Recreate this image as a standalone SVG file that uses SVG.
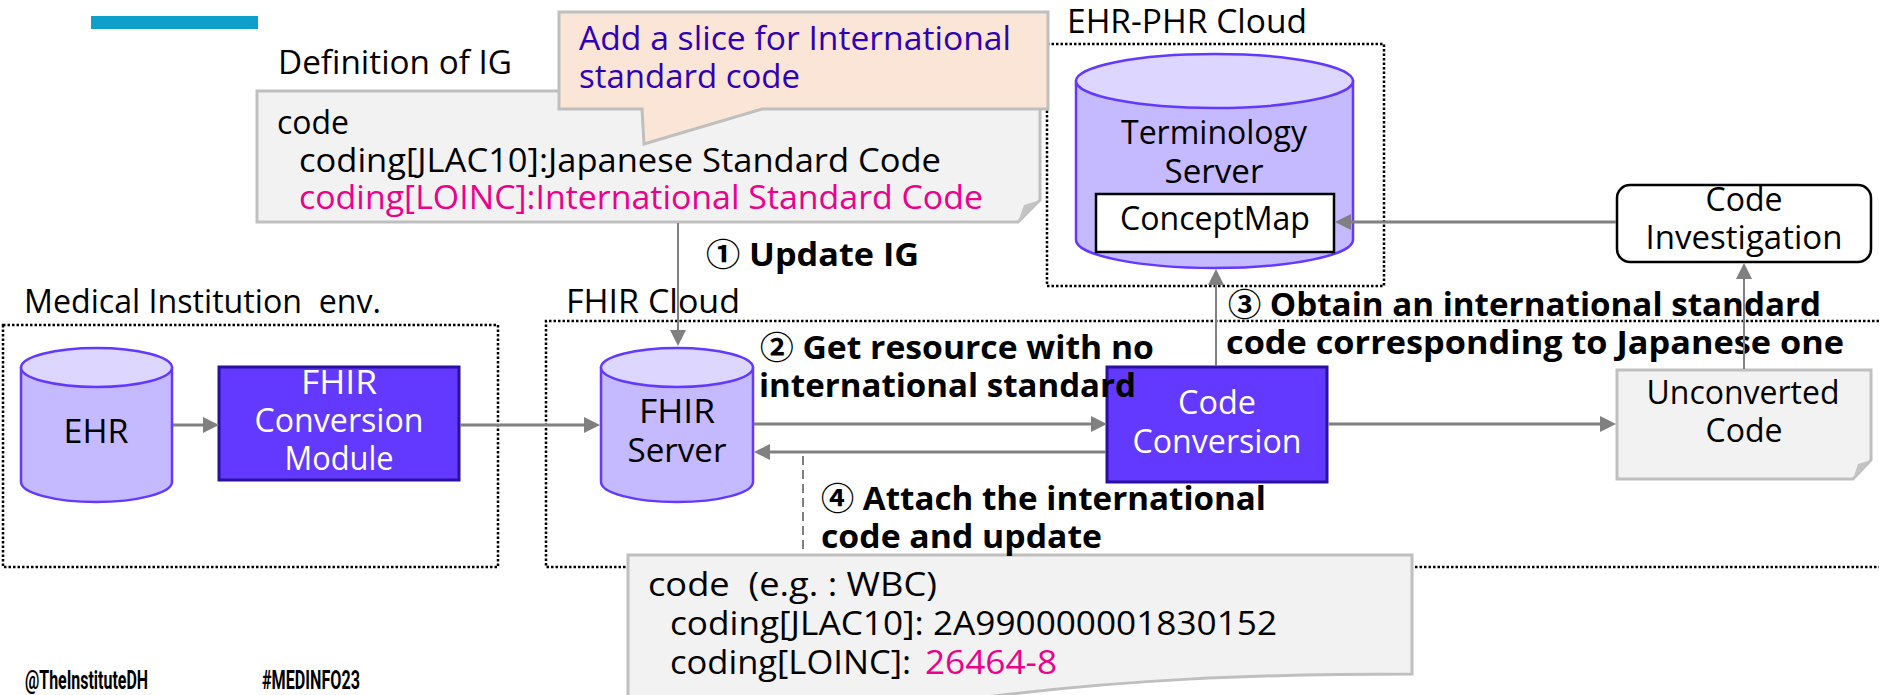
<svg xmlns="http://www.w3.org/2000/svg" width="1879" height="695" viewBox="0 0 1879 695">
<style>
text{font-family:"Open Sans","Noto Sans","Noto Sans CJK JP",sans-serif;font-size:32px;fill:#000;transform:translateY(1px)}
.b{font-weight:700}
.m{text-anchor:middle}
.w{fill:#fff}
.p{fill:#EC008C}
.u{fill:#2E00B8}
.f{font-family:"Roboto",sans-serif;font-weight:700;font-size:26px}
.dot{fill:none;stroke:#000;stroke-width:2.500;stroke-dasharray:2.500 2}
.note{fill:#F2F2F2;stroke:#BFBFBF;stroke-width:3}
.fold{fill:#C4C4C4;stroke:none}
.cyl{fill:#C5B9FF;stroke:#6338FF;stroke-width:2.5}
.top{fill:#DDD6FF;stroke:#6338FF;stroke-width:2.5}
.proc{fill:#6338FF;stroke:#2A109C;stroke-width:3}
.c{fill:none;stroke:#808080;stroke-width:3}
.t{stroke-width:2}
</style>
<defs>
<marker id="a" markerUnits="userSpaceOnUse" markerWidth="18" markerHeight="18" refX="1" refY="8" orient="auto"><path d="M0 0L16 8L0 16z" fill="#808080"/></marker>
</defs>
<rect id="accent" x="91" y="16" width="167" height="13" fill="#0F9FCB"/>
<g id="zones">
<rect class="dot" x="3" y="325" width="495" height="242"/>
<path class="dot" d="M1879 321H546V567H1879"/>
<rect class="dot" x="1047" y="44" width="337" height="242"/>
<text x="278" y="73" textLength="234" lengthAdjust="spacingAndGlyphs">Definition of IG</text>
<text x="1067" y="32" textLength="240" lengthAdjust="spacingAndGlyphs">EHR-PHR Cloud</text>
<text x="24" y="312" textLength="357" lengthAdjust="spacingAndGlyphs" xml:space="preserve">Medical Institution  env.</text>
<text x="566" y="312" textLength="174" lengthAdjust="spacingAndGlyphs">FHIR Cloud</text>
</g>
<g id="definition">
<path class="note" d="M257 91H1040V200L1018 222H257z"/>
<path class="fold" d="M1040 200L1018 222L1024 205z"/>
<text x="277" y="133" textLength="72" lengthAdjust="spacingAndGlyphs">code</text>
<text x="299" y="171" textLength="642" lengthAdjust="spacingAndGlyphs">coding[JLAC10]:Japanese Standard Code</text>
<text class="p" x="299" y="208" textLength="684" lengthAdjust="spacingAndGlyphs">coding[LOINC]:International Standard Code</text>
</g>
<g id="callout">
<path d="M559 12H1048V109H762L644 144L642 109H559z" fill="#FBE5D6" stroke="#BFBFBF" stroke-width="3"/>
<text class="u" x="579" y="49" textLength="432" lengthAdjust="spacingAndGlyphs">Add a slice for International</text>
<text class="u" x="579" y="87" textLength="221" lengthAdjust="spacingAndGlyphs">standard code</text>
</g>
<g id="ehr">
<path class="cyl" d="M21 368V482C21 493 55 502 96 502S172 493 172 482V368z"/>
<ellipse class="top" cx="96.500" cy="367.500" rx="75.500" ry="19.500"/>
<text class="m" x="96" y="442" textLength="65" lengthAdjust="spacingAndGlyphs">EHR</text>
</g>
<g id="fhir-conversion-module">
<rect class="proc" x="219" y="367" width="240" height="113"/>
<text class="m w" x="339" y="393" textLength="76" lengthAdjust="spacingAndGlyphs">FHIR</text>
<text class="m w" x="339" y="431" textLength="169" lengthAdjust="spacingAndGlyphs">Conversion</text>
<text class="m w" x="339" y="469" textLength="109" lengthAdjust="spacingAndGlyphs">Module</text>
</g>
<g id="fhir-server">
<path class="cyl" d="M601 368V482C601 493 635 502 677 502S753 493 753 482V368z"/>
<ellipse class="top" cx="677" cy="367.500" rx="76" ry="19.500"/>
<text class="m" x="677" y="422" textLength="76" lengthAdjust="spacingAndGlyphs">FHIR</text>
<text class="m" x="677" y="461" textLength="99" lengthAdjust="spacingAndGlyphs">Server</text>
</g>
<g id="code-conversion">
<rect class="proc" x="1107" y="367" width="220" height="115"/>
<text class="m w" x="1217" y="413" textLength="78" lengthAdjust="spacingAndGlyphs">Code</text>
<text class="m w" x="1217" y="452" textLength="169" lengthAdjust="spacingAndGlyphs">Conversion</text>
</g>
<g id="unconverted-code">
<path class="note" d="M1617 370H1871V460L1853 479H1617z"/>
<path class="fold" d="M1871 460L1853 479L1858 464z"/>
<text class="m" x="1743" y="403" textLength="193" lengthAdjust="spacingAndGlyphs">Unconverted</text>
<text class="m" x="1744" y="441" textLength="77" lengthAdjust="spacingAndGlyphs">Code</text>
</g>
<g id="terminology-server">
<path class="cyl" d="M1076 81V240C1076 255 1138 268 1214.500 268S1353 255 1353 240V81z"/>
<ellipse class="top" cx="1214.500" cy="81" rx="138.500" ry="27"/>
<text class="m" x="1214" y="143" textLength="186" lengthAdjust="spacingAndGlyphs">Terminology</text>
<text class="m" x="1214" y="182" textLength="99" lengthAdjust="spacingAndGlyphs">Server</text>
<rect x="1096" y="194" width="238" height="58" fill="#fff" stroke="#000" stroke-width="2.500"/>
<text class="m" x="1215" y="229" textLength="190" lengthAdjust="spacingAndGlyphs">ConceptMap</text>
</g>
<g id="code-investigation">
<rect x="1617" y="185" width="254" height="77" rx="13" fill="#fff" stroke="#000" stroke-width="2.500"/>
<text class="m" x="1744" y="210" textLength="77" lengthAdjust="spacingAndGlyphs">Code</text>
<text class="m" x="1744" y="248" textLength="197" lengthAdjust="spacingAndGlyphs">Investigation</text>
</g>
<g id="example">
<path class="note" d="M628 555H1412V674C1250 674 1120 680 987 697H628z"/>
<text x="648" y="595" textLength="289" lengthAdjust="spacingAndGlyphs" xml:space="preserve">code  (e.g. : WBC)</text>
<text x="670" y="634" textLength="607" lengthAdjust="spacingAndGlyphs">coding[JLAC10]: 2A990000001830152</text>
<text x="670" y="673" textLength="241" lengthAdjust="spacingAndGlyphs">coding[LOINC]:</text>
<text class="p" x="925" y="673" textLength="132" lengthAdjust="spacingAndGlyphs">26464-8</text>
</g>
<g id="steps">
<text class="b" x="706" y="265" textLength="213" lengthAdjust="spacingAndGlyphs">① Update IG</text>
<text class="b" x="760" y="358" textLength="394" lengthAdjust="spacingAndGlyphs">② Get resource with no</text>
<text class="b" x="759" y="396" textLength="377" lengthAdjust="spacingAndGlyphs">international standard</text>
<text class="b" x="1228" y="315" textLength="593" lengthAdjust="spacingAndGlyphs">③ Obtain an international standard</text>
<text class="b" x="1226" y="353" textLength="618" lengthAdjust="spacingAndGlyphs">code corresponding to Japanese one</text>
<text class="b" x="821" y="509" textLength="445" lengthAdjust="spacingAndGlyphs">④ Attach the international</text>
<text class="b" x="821" y="547" textLength="281" lengthAdjust="spacingAndGlyphs">code and update</text>
</g>
<g id="connectors">
<path class="c t" marker-end="url(#a)" d="M678 223V331"/>
<path class="c" marker-end="url(#a)" d="M173 425H204"/>
<path class="c" marker-end="url(#a)" d="M460 425H585"/>
<path class="c" marker-end="url(#a)" d="M754 424H1092"/>
<path class="c" marker-end="url(#a)" d="M1106 452H769"/>
<path class="c" marker-end="url(#a)" d="M1328 424H1601"/>
<path class="c t" marker-end="url(#a)" d="M1216 366V284"/>
<path class="c t" marker-end="url(#a)" d="M1744 369V278"/>
<path class="c" marker-end="url(#a)" d="M1616 222H1350"/>
<path d="M803 456V554" fill="none" stroke="#808080" stroke-width="2" stroke-dasharray="9 5"/>
</g>
<g id="footer">
<text class="f" x="25" y="688" textLength="123" lengthAdjust="spacingAndGlyphs">@TheInstituteDH</text>
<text class="f" x="262" y="688" textLength="98" lengthAdjust="spacingAndGlyphs">#MEDINFO23</text>
</g>
</svg>
